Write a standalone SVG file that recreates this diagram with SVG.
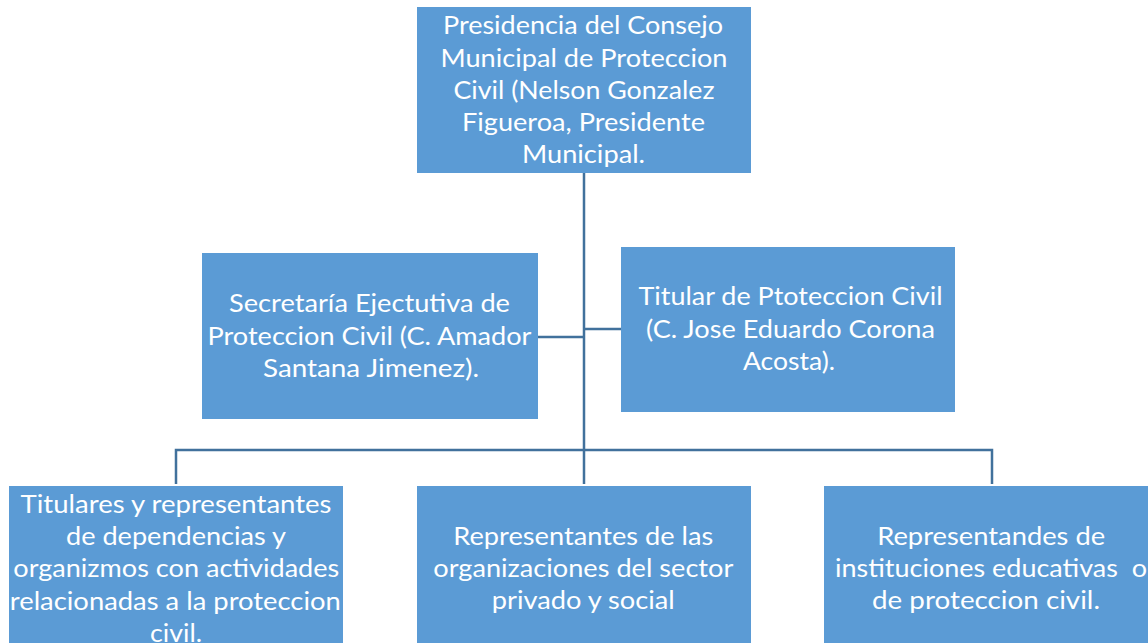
<svg xmlns="http://www.w3.org/2000/svg" width="1148" height="643" viewBox="0 0 1148 643">
<style>
.box{fill:#5B9BD5;}
.t{fill:#FFFFFF;font-family:Lato,"Open Sans","Liberation Sans",sans-serif;font-size:25px;text-anchor:middle;}
.c{stroke:#41719C;stroke-width:2.5;fill:none;}
</style>
<rect width="1148" height="643" fill="#FFFFFF"/>
<g id="connectors">
<path class="c" d="M584,173 V484"/>
<path class="c" d="M176,484 V450 H992 V484"/>
<path class="c" d="M538,337 H584"/>
<path class="c" d="M584,329 H621"/>
</g>
<g id="presidencia">
<rect class="box" x="417" y="7" width="334" height="166"/>
<text class="t"><tspan x="583" y="34" textLength="280" lengthAdjust="spacingAndGlyphs">Presidencia del Consejo</tspan><tspan x="584" y="66.5" textLength="287" lengthAdjust="spacingAndGlyphs">Municipal de Proteccion</tspan><tspan x="584" y="99" textLength="261" lengthAdjust="spacingAndGlyphs">Civil (Nelson Gonzalez</tspan><tspan x="583.5" y="131" textLength="243" lengthAdjust="spacingAndGlyphs">Figueroa, Presidente</tspan><tspan x="583.5" y="163" textLength="123" lengthAdjust="spacingAndGlyphs">Municipal.</tspan></text>
</g>
<g id="secretaria">
<rect class="box" x="202" y="253" width="336" height="166"/>
<text class="t"><tspan x="369.5" y="312" textLength="281" lengthAdjust="spacingAndGlyphs">Secretaría Ejectutiva de</tspan><tspan x="369.5" y="344.5" textLength="324" lengthAdjust="spacingAndGlyphs">Proteccion Civil (C. Amador</tspan><tspan x="371" y="377" textLength="216" lengthAdjust="spacingAndGlyphs">Santana Jimenez).</tspan></text>
</g>
<g id="titular">
<rect class="box" x="621" y="247" width="334" height="165"/>
<text class="t"><tspan x="790.5" y="305" textLength="304" lengthAdjust="spacingAndGlyphs">Titular de Ptoteccion Civil</tspan><tspan x="790.5" y="337.5" textLength="289" lengthAdjust="spacingAndGlyphs">(C. Jose Eduardo Corona</tspan><tspan x="789" y="370" textLength="92" lengthAdjust="spacingAndGlyphs">Acosta).</tspan></text>
</g>
<g id="titulares">
<rect class="box" x="9" y="486" width="334" height="166"/>
<text class="t"><tspan x="176" y="512.5" textLength="311" lengthAdjust="spacingAndGlyphs">Titulares y representantes</tspan><tspan x="176" y="545" textLength="220" lengthAdjust="spacingAndGlyphs">de dependencias y</tspan><tspan x="176.3" y="577" textLength="326" lengthAdjust="spacingAndGlyphs">organizmos con actividades</tspan><tspan x="175.3" y="609.5" textLength="331" lengthAdjust="spacingAndGlyphs">relacionadas a la proteccion</tspan><tspan x="176" y="641.5" textLength="52" lengthAdjust="spacingAndGlyphs">civil.</tspan></text>
</g>
<g id="representantes">
<rect class="box" x="417" y="486" width="334" height="166"/>
<text class="t"><tspan x="583.3" y="544.5" textLength="260" lengthAdjust="spacingAndGlyphs">Representantes de las</tspan><tspan x="583.3" y="577" textLength="300" lengthAdjust="spacingAndGlyphs">organizaciones del sector</tspan><tspan x="583.3" y="609" textLength="183" lengthAdjust="spacingAndGlyphs">privado y social</tspan></text>
</g>
<g id="instituciones">
<rect class="box" x="824" y="486" width="334" height="166"/>
<text class="t"><tspan x="991.2" y="544.5" textLength="228" lengthAdjust="spacingAndGlyphs">Representandes de</tspan><tspan x="991" y="577" textLength="312" lengthAdjust="spacingAndGlyphs" xml:space="preserve">instituciones educativas  o</tspan><tspan x="986" y="609" textLength="228" lengthAdjust="spacingAndGlyphs">de proteccion civil.</tspan></text>
</g>
</svg>
